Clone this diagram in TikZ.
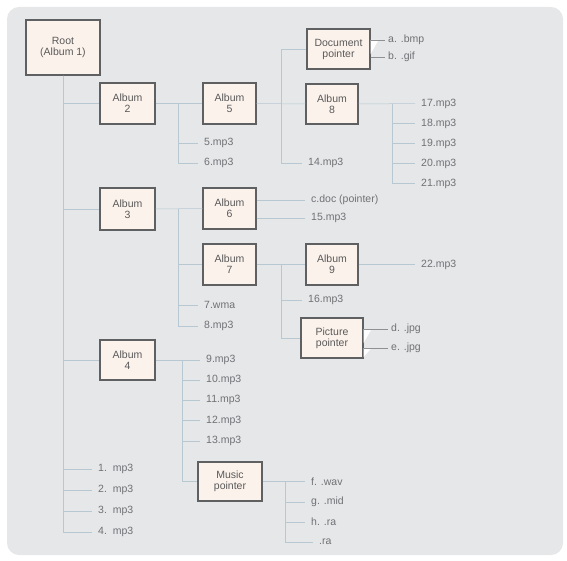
\documentclass[tikz,border=0pt]{standalone}
\usepackage{fontspec}
\setmainfont{Liberation Sans}
\usetikzlibrary{calc}

\definecolor{panel}{HTML}{E6E7E9}
\definecolor{boxfill}{HTML}{FCF2EC}
\definecolor{boxline}{HTML}{5F6062}
\definecolor{linkcol}{HTML}{B7C8D2}
\definecolor{filetext}{HTML}{707174}

\begin{document}
\begin{tikzpicture}[
    x=1pt, y=-1pt, % pixel-like units, y grows downwards
    album/.style={draw=boxline, line width=1.1pt, fill=boxfill, align=center,
        font=\fontsize{10.5}{11}\selectfont, text=black!65,
        minimum width=53pt, minimum height=41pt, inner sep=1pt},
    file/.style={anchor=west, font=\fontsize{10.5}{11}\selectfont, text=filetext, inner sep=1pt},
    link/.style={draw=linkcol, line width=0.5pt},
    fold/.style={fill=white, draw=none} % little white tabs on the pointer boxes
]

    % Grey panel behind everything
    \useasboundingbox (0,0) rectangle (567,561);
    \fill[panel, rounded corners=12pt] (7,7) rectangle (563,555);

    % Boxes (albums and pointers)
    \node[album, minimum width=74pt, minimum height=55pt] (root) at (63,47.5) {Root\\(Album 1)};
    \node[album, minimum width=55pt] (alb2) at (127.5,103.5) {Album\\2};
    \node[album] (alb5) at (229.5,103.5) {Album\\5};
    \node[album, minimum width=63pt, minimum height=40pt] (docp) at (338.5,49) {Document\\pointer};
    \node[album, minimum width=52pt, minimum height=40pt] (alb8) at (332,104) {Album\\8};
    \node[album, minimum width=55pt, minimum height=42pt] (alb3) at (127.5,209) {Album\\3};
    \node[album] (alb6) at (229.5,208.5) {Album\\6};
    \node[album] (alb7) at (229.5,264.5) {Album\\7};
    \node[album, minimum width=52pt] (alb9) at (332,264.5) {Album\\9};
    \node[album, minimum width=62pt, minimum height=40pt] (picp) at (332,338) {Picture\\pointer};
    \node[album, minimum width=55pt, minimum height=40pt] (alb4) at (127.5,360) {Album\\4};
    \node[album, minimum width=64pt, minimum height=39pt] (musp) at (230,481.5) {Music\\pointer};

    % File entries
    \node[file] (f5) at (203,143) {5.mp3};
    \node[file] (f6) at (203,163) {6.mp3};
    \node[file] (f14) at (307,163) {14.mp3};
    \node[file] (fa) at (387,40) {a. .bmp};
    \node[file] (fb) at (387,57) {b. .gif};
    \foreach \n [count=\k from 0] in {17,...,21}
        \node[file] (f\n) at (420,{103.5+20*\k}) {\n.mp3};
    \node[file] (fc) at (310,200) {c.doc (pointer)};
    \node[file] (f15) at (310,218) {15.mp3};
    \node[file] (f7) at (203,305) {7.wma};
    \node[file] (f8) at (203,326) {8.mp3};
    \node[file] (f16) at (307,300) {16.mp3};
    \node[file] (f22) at (420,264.5) {22.mp3};
    \node[file] (fd) at (390,329) {d. .jpg};
    \node[file] (fe) at (390,348) {e. .jpg};
    \foreach \n [count=\k from 0] in {9,...,13}
        \node[file] (f\n) at (205,{360+20.2*\k}) {\n.mp3};
    \foreach \n [count=\k from 0] in {1,...,4}
        \node[file] (f\n) at (97,{469+21*\k}) {\n.\ \ mp3};
    \node[file] (ff) at (310,481.5) {f. .wav};
    \node[file] (fg) at (310,502) {g. .mid};
    \node[file] (fh) at (310,522) {h. .ra};
    \node[file] (fi) at (318,542) {.ra};

    % Junctions of the elbow connectors
    \coordinate (j2) at (178,103.5);
    \coordinate (j5) at (281,103.5);
    \coordinate (j8) at (392,104);
    \coordinate (j3) at (178,209);
    \coordinate (j7) at (281,264.5);
    \coordinate (j4) at (182,360);
    \coordinate (jm) at (285,481.5);

    \begin{scope}[link, shorten >=5pt]
        % Root trunk
        \foreach \t in {f1,f2,f3,f4}
            \draw (root.south) |- (\t.west);
        % Album 2
        \foreach \t in {f5,f6}
            \draw (j2) |- (\t.west);
        % Album 5
        \draw (j5) |- (f14.west);
        % Album 8
        \draw (alb8.east) -- (f17.west);
        \foreach \t in {f18,f19,f20,f21}
            \draw (j8) |- (\t.west);
        % Album 3 / 6 / 7 / 9
        \foreach \t in {f7,f8}
            \draw (j3) |- (\t.west);
        \draw (alb6.east |- fc) -- (fc.west);
        \draw (alb6.east |- f15) -- (f15.west);
        \draw (j7) |- (f16.west);
        \draw (alb9.east) -- (f22.west);
        % Album 4 and music
        \draw (alb4.east) -- (f9.west);
        \foreach \t in {f10,f11,f12,f13}
            \draw (j4) |- (\t.west);
        \draw (musp.east) -- (ff.west);
        \foreach \t in {fg,fh,fi}
            \draw (jm) |- (\t.west);
    \end{scope}

    \begin{scope}[link]
        \draw (root.south) |- (alb2.west);
        \draw (root.south) |- (alb3.west);
        \draw (root.south) |- (alb4.west);
        \draw (alb2.east) -- (alb5.west);
        \draw (alb5.east) -- (alb8.west);
        \draw (j5) |- (docp.west);
        \draw (alb3.east) -- (alb6.west);
        \draw (j3) |- (alb7.west);
        \draw (alb7.east) -- (alb9.west);
        \draw (j7) |- (picp.west);
        \draw (j4) |- (musp.west);
    \end{scope}

    % Pointer entries with their white tabs
    \fill[fold] (docp.east |- fa) -- ++(8,0) -- ++(-8,14) -- cycle;
    \fill[fold] (picp.east |- fd) -- ++(8,0) -- ++(-8,14) -- cycle;
    \fill[fold] (picp.east |- fe) -- ++(8,0) -- ++(-8,9) -- cycle;
    \begin{scope}[link, draw=boxline!70, shorten >=2pt]
        \draw (docp.east |- fa) -- (fa.west);
        \draw (docp.east |- fb) -- (fb.west);
        \draw (picp.east |- fd) -- (fd.west);
        \draw (picp.east |- fe) -- (fe.west);
    \end{scope}

\end{tikzpicture}
\end{document}
